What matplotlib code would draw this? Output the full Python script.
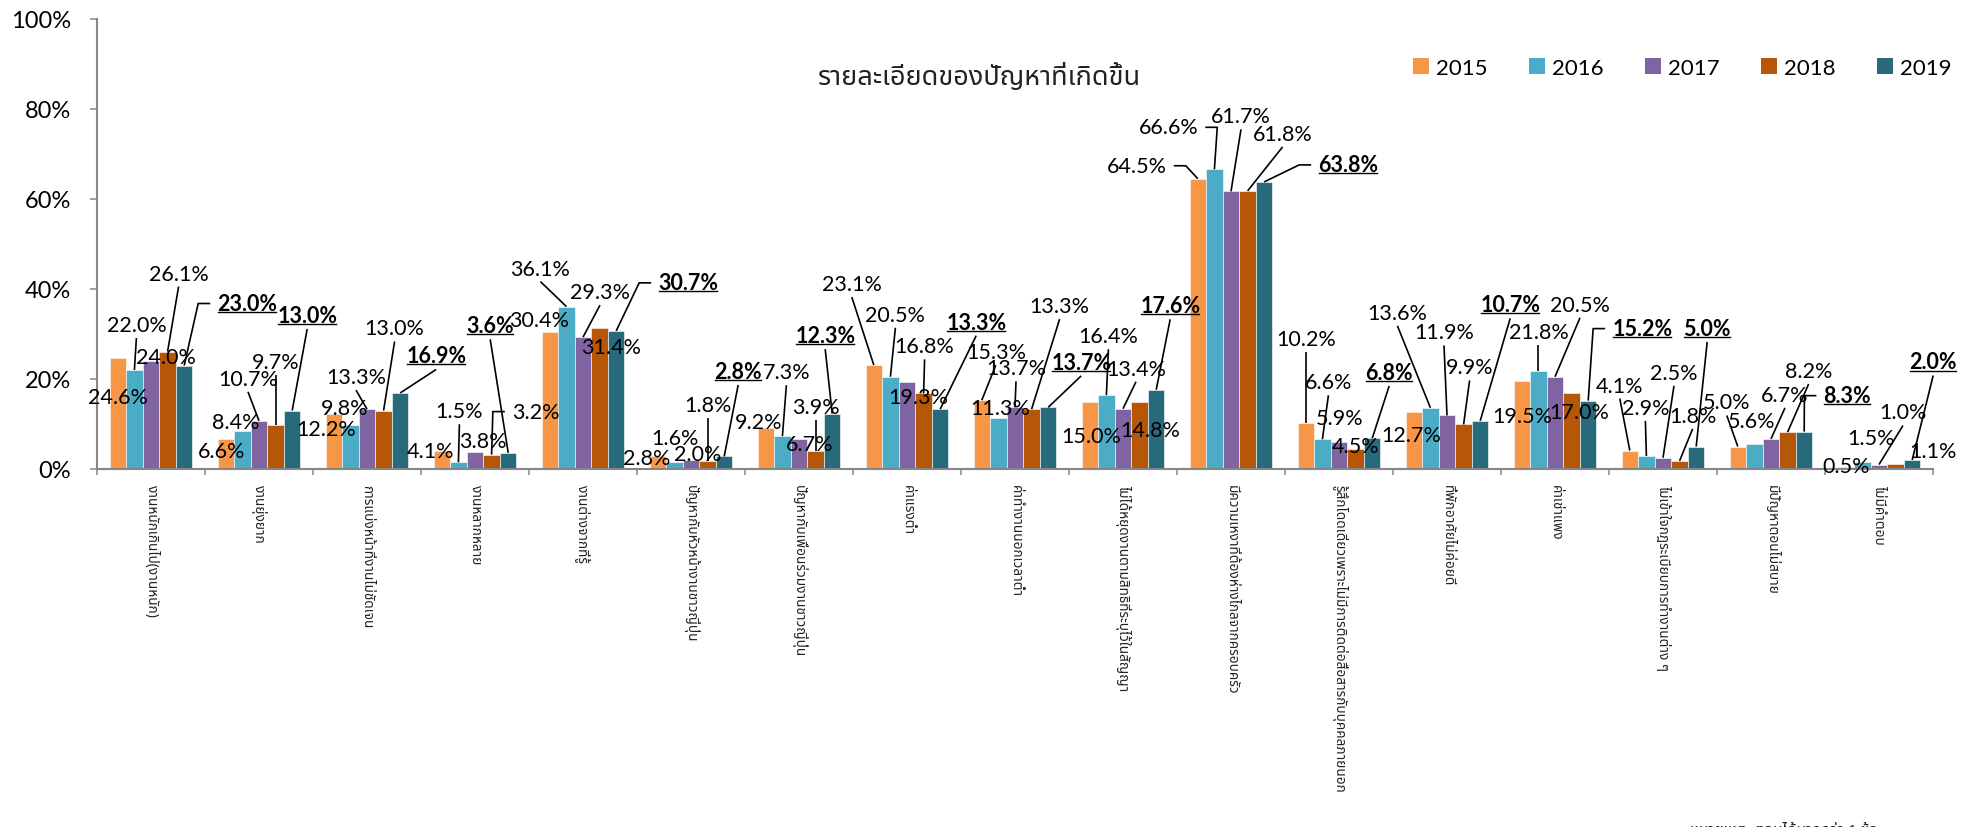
import numpy as np
import matplotlib
matplotlib.use("Agg")
import matplotlib.pyplot as plt
from matplotlib import font_manager as fm
from matplotlib.patches import Patch

# ---------------- data ----------------
categories = [
    "งานหนักเกินไป(งานหนัก)",
    "งานยุ่งยาก",
    "การแบ่งหน้าที่งานไม่ชัดเจน",
    "งานหลากหลาย",
    "งานต่างจากที่รู้",
    "ปัญหากับหัวหน้างานชาวญี่ปุ่น",
    "ปัญหากับเพื่อนร่วมงานชาวญี่ปุ่น",
    "ค่าแรงต่ำ",
    "ค่าทำงานนอกเวลาต่ำ",
    "ไม่ได้หยุดงานตามสิทธิที่ระบุไว้ในสัญญา",
    "มีความเหงาที่ต้องห่างไกลจากครอบครัว",
    "รู้สึกโดดเดี่ยวเพราะไม่มีการติดต่อสื่อสารกับบุคคลภายนอก",
    "ที่พักอาศัยไม่ค่อยดี",
    "ค่าเช่าแพง",
    "ไม่เข้าใจกฎระเบียบการทำงานต่าง ๆ",
    "มีปัญหาตอนไม่สบาย",
    "ไม่มีคำตอบ",
]
years = ["2015", "2016", "2017", "2018", "2019"]
v2015 = [24.6, 6.6, 12.2, 4.1, 30.4, 2.8, 9.2, 23.1, 15.3, 15.0, 64.5, 10.2, 12.7, 19.5, 4.1, 5.0, 0.5]
v2016 = [22.0, 8.4, 9.8, 1.5, 36.1, 1.6, 7.3, 20.5, 11.3, 16.4, 66.6, 6.6, 13.6, 21.8, 2.9, 5.6, 1.5]
v2017 = [24.0, 10.7, 13.3, 3.8, 29.3, 2.0, 6.7, 19.3, 13.7, 13.4, 61.7, 5.9, 11.9, 20.5, 2.5, 6.7, 1.0]
v2018 = [26.1, 9.7, 13.0, 3.2, 31.4, 1.8, 3.9, 16.8, 13.3, 14.8, 61.8, 4.5, 9.9, 17.0, 1.8, 8.2, 1.1]
v2019 = [23.0, 13.0, 16.9, 3.6, 30.7, 2.8, 12.3, 13.3, 13.7, 17.6, 63.8, 6.8, 10.7, 15.2, 5.0, 8.3, 2.0]
title_text = "รายละเอียดของปัญหาที่เกิดขึ้น"
note_text = "หมายเหตุ: ตอบได้มากกว่า 1 ข้อ"
y_ticks = [0, 20, 40, 60, 80, 100]
y_tick_labels = ["0%", "20%", "40%", "60%", "80%", "100%"]

# ------------- styling / layout -------------
colors = ["#F79646", "#4BACC6", "#8064A2", "#B65708", "#276A7B"]
# data-label placement: (dx px, dy px relative to bar top, leader kind)
# kinds: n = no leader, s = straight leader, L = elbow on left, R = elbow on right
LABEL_LAYOUT = [
    [(0, -39, 'n'), (2, 45, 's'), (15, 4, 'n'), (11, 78, 's'), (63, 62, 'L')],
    [(-4, -12, 'n'), (-7, 9, 'n'), (-11, 42, 's'), (0, 63, 's'), (15, 95, 's')],
    [(-8, -15, 'n'), (-6, 17, 'n'), (-11, 32, 's'), (11, 82, 's'), (36, 37, 's')],
    [(-11, 0, 'n'), (1, 51, 's'), (8, 11, 'n'), (44, 43, 'L'), (-18, 127, 's')],
    [(-11, 12, 'n'), (-26, 38, 's'), (17, 45, 's'), (12, -19, 'n'), (72, 48, 'L')],
    [(-11, -2, 'n'), (1, 24, 'n'), (7, 6, 'n'), (0, 56, 's'), (14, 85, 's')],
    [(-7, 6, 'n'), (4, 64, 's'), (11, -5, 'n'), (0, 44, 's'), (-7, 78, 's')],
    [(-22, 81, 's'), (5, 62, 's'), (11, -15, 'n'), (1, 47, 's'), (36, 87, 's')],
    [(14, 48, 's'), (2, 10, 'n'), (1, 39, 's'), (28, 103, 's'), (33, 45, 's')],
    [(1, -35, 'n'), (2, 59, 's'), (13, 40, 's'), (11, -28, 'n'), (14, 84, 's')],
    [(-61, 13, 'R'), (-46, 42, 'R'), (10, 75, 's'), (35, 57, 's'), (84, 17, 'L')],
    [(0, 84, 's'), (6, 57, 's'), (1, 24, 'n'), (0, 3, 'n'), (17, 66, 's')],
    [(-3, -23, 'n'), (-33, 95, 's'), (-3, 83, 's'), (6, 57, 's'), (30, 116, 's')],
    [(0, -35, 'n'), (0, 39, 's'), (25, 72, 's'), (8, -20, 'n'), (54, 72, 'L')],
    [(-10, 65, 's'), (-1, 48, 's'), (11, 85, 's'), (13, 45, 's'), (11, 118, 's')],
    [(-11, 44, 's'), (-3, 23, 'n'), (14, 44, 's'), (21, 61, 's'), (43, 36, 'L')],
    [(0, 1, 'n'), (9, 24, 'n'), (24, 52, 's'), (37, 13, 'n'), (21, 98, 's')],
]


def find_thai_font():
    names = {e.name for e in fm.fontManager.ttflist}
    prefs = ["Noto Sans Thai", "Noto Sans Thai UI", "Noto Sans Thai Looped", "Sarabun",
             "Loma", "Garuda", "Waree", "Umpush", "Tlwg Typo", "Kinnari", "Norasi"]
    for p in prefs:
        if p in names:
            return p
    try:
        from fontTools.ttLib import TTFont
    except Exception:
        return None
    for e in fm.fontManager.ttflist:
        try:
            tt = TTFont(e.fname, fontNumber=0, lazy=True)
            cmap = tt.getBestCmap()
            if cmap and 0x0E01 in cmap and 0x0E32 in cmap:
                return e.name
        except Exception:
            continue
    return None


ALL_NAMES = {e.name for e in fm.fontManager.ttflist}
LATIN = "Lato" if "Lato" in ALL_NAMES else "DejaVu Sans"
THAI = find_thai_font()
THAI_FAM = [THAI, LATIN] if THAI else [LATIN, "DejaVu Sans"]
plt.rcParams["font.family"] = [LATIN, "DejaVu Sans"]

W, H = 1974, 828
fig = plt.figure(figsize=(W / 100, H / 100), dpi=100)
fig.patch.set_facecolor("white")
ax = fig.add_axes([97 / W, 1 - 470 / H, (1933 - 97) / W, (470 - 20) / H])

series = [v2015, v2016, v2017, v2018, v2019]
n = len(categories)
x = np.arange(n)
bw = 0.1537
for j, (vals, c, yr) in enumerate(zip(series, colors, years)):
    ax.bar(x + (j - 2) * bw, vals, width=bw, color=c, label=yr, zorder=2,
           edgecolor="white", linewidth=0.4)

ax.set_xlim(-0.5, n - 0.5)
ax.set_ylim(0, 100)
for s in ["top", "right"]:
    ax.spines[s].set_visible(False)
for s in ["left", "bottom"]:
    ax.spines[s].set_color("#868686")
    ax.spines[s].set_linewidth(1.5)

ax.set_yticks(y_ticks)
ax.set_yticklabels(y_tick_labels, fontsize=17, family=LATIN)
ax.tick_params(axis="y", direction="out", length=5, width=1.1, color="#868686", pad=13.5)

ax.set_xticks(x)
ax.set_xticklabels(categories, rotation=270, fontsize=9.8, family=THAI_FAM,
                   color="#222222", va="top", ha="center")
ax.set_xticks(np.arange(-0.5, n, 1), minor=True)
ax.tick_params(axis="x", which="major", length=0, pad=11)
ax.tick_params(axis="x", which="minor", direction="out", length=4.5, width=1.1, color="#868686")

# legend
handles = [Patch(facecolor=c, edgecolor="none") for c in colors]
ax.legend(handles, years, loc="center right", bbox_to_anchor=(1952 / W, 1 - 69 / H),
          bbox_transform=fig.transFigure, ncol=5, frameon=False,
          prop={"family": LATIN, "size": 16}, handlelength=0.7, handleheight=0.7,
          handletextpad=0.35, columnspacing=1.85, borderpad=0, borderaxespad=0)

# title
fig.text(980 / W, 1 - 78 / H, title_text, ha="center", va="center", fontsize=19.5,
         family=THAI_FAM, color="#222222")
# note (cut at the bottom edge, as in the original)
fig.text(1690 / W, 1 - 822 / H, note_text, ha="left", va="top", fontsize=11,
         family=THAI_FAM, color="#222222")

# data labels with leader lines
fig.canvas.draw()
renderer = fig.canvas.get_renderer()
to_data = ax.transData.inverted()
items = []
for i in range(n):
    for j in range(5):
        v = series[j][i]
        dx, dy, kind = LABEL_LAYOUT[i][j]
        bx, by = ax.transData.transform((x[i] + (j - 2) * bw, v))
        tx, ty = bx + dx, by + dy
        txd, tyd = to_data.transform((tx, ty))
        t = ax.text(txd, tyd, f"{v:.1f}%", ha="center", va="center", fontsize=15.5,
                    fontweight="bold" if j == 4 else "normal", family=LATIN,
                    color="black", zorder=6, clip_on=False)
        items.append((t, kind, bx, by, tx, ty, j == 4))

fig.canvas.draw()
for t, kind, bx, by, tx, ty, bold in items:
    bb = t.get_window_extent(renderer)
    pts = None
    if kind == "s":
        pts = [(tx, bb.y0 - 3), (bx, by)]
    elif kind == "L":
        pts = [(bb.x0 - 7, ty), (bb.x0 - 19, ty), (bx, by)]
    elif kind == "R":
        pts = [(bb.x1 + 7, ty), (bb.x1 + 19, ty), (bx, by)]
    if pts is not None:
        d = to_data.transform(pts)
        ax.plot(d[:, 0], d[:, 1], color="black", lw=1.2, zorder=5, clip_on=False,
                solid_capstyle="butt")
    if bold:
        d = to_data.transform([(bb.x0 + 1, bb.y0 + 2), (bb.x1 - 1, bb.y0 + 2)])
        ax.plot(d[:, 0], d[:, 1], color="black", lw=1.0, zorder=6, clip_on=False)

fig.savefig("out.png", dpi=100, facecolor="white")
